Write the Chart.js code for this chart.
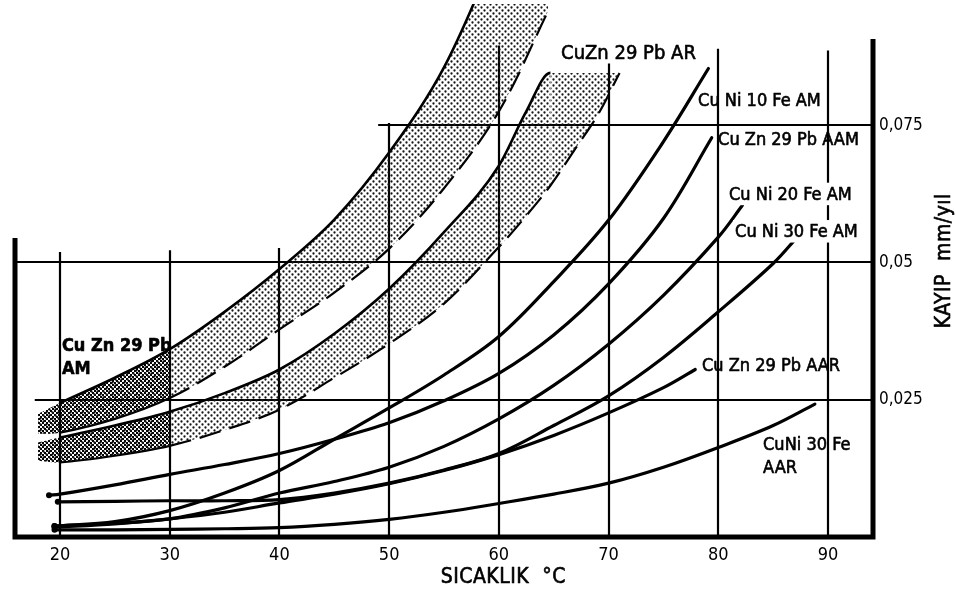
<!DOCTYPE html>
<html>
<head>
<meta charset="utf-8">
<title>Sıcaklık – Kayıp</title>
<script src="https://cdn.jsdelivr.net/npm/chart.js@4.4.0/dist/chart.umd.min.js"></script>
<style>
  html, body { margin: 0; padding: 0; background: #fff; }
  #wrap { width: 956px; height: 592px; }
</style>
</head>
<body>
<div id="wrap"><canvas id="c" width="956" height="592"></canvas></div>
<script>
// ---- axes ----
const tempTicks = [20, 30, 40, 50, 60, 70, 80, 90];
const lossTicks = [0.025, 0.05, 0.075];
const lossTickLabels = ['0,025', '0,05', '0,075'];

// ---- grid: vertical lines (temperature) run from 0 up to a given loss ----
const gridTemps = [20, 30, 40, 50, 60, 70, 80, 90];
const gridTempTops = [0.0519, 0.0522, 0.0526, 0.0754, 0.0895, 0.0862, 0.0889, 0.0886];
// horizontal lines (loss) start at a given temperature
const gridLosses = [0.025, 0.05, 0.075];
const gridLossStarts = [17.7, 15.9, 49.0];

// ---- CuZn 29 Pb AM band ----
const bandAmT     = [18, 20, 25, 30, 35, 40, 45, 50, 55, 60, 64.5];
const bandAmUpper = [0.0224, 0.0244, 0.0290, 0.0342, 0.0410, 0.0488, 0.0578, 0.0700, 0.0855, 0.1080, 0.1300];
const bandAmLower = [0.0188, 0.0190, 0.0215, 0.0253, 0.0310, 0.0378, 0.0445, 0.0525, 0.0635, 0.0775, 0.0958];

// ---- CuZn 29 Pb AR band ----
const bandArT     = [18, 20, 25, 30, 35, 40, 45, 50, 55, 60, 62.5, 64.7, 67, 69, 71];
const bandArUpper = [0.0172, 0.0181, 0.0203, 0.0228, 0.0262, 0.0305, 0.0370, 0.0452, 0.0555, 0.0676, 0.0775, 0.0845, 0.0845, 0.0845, 0.0845];
const bandArLower = [0.0139, 0.0136, 0.0148, 0.0166, 0.0195, 0.0232, 0.0290, 0.0352, 0.0425, 0.0528, 0.0585, 0.0640, 0.0708, 0.0768, 0.0845];

// ---- single curves ----
const cuNi10FeAmT    = [19.5, 25, 30, 35, 40, 45, 50, 55, 60, 65, 70, 75, 79.1];
const cuNi10FeAmLoss = [0.0020, 0.0028, 0.0048, 0.0080, 0.0121, 0.0178, 0.0235, 0.0295, 0.0365, 0.0465, 0.0577, 0.0720, 0.0853];

const cuZn29PbAamT    = [19, 20, 25, 30, 35, 40, 45, 50, 55, 60, 65, 70, 75, 79.4];
const cuZn29PbAamLoss = [0.0076, 0.0078, 0.0095, 0.0114, 0.0132, 0.0152, 0.0178, 0.0208, 0.0248, 0.0298, 0.0368, 0.0461, 0.0580, 0.0727];

const cuNi20FeAmT    = [19.5, 25, 30, 35, 40, 45, 50, 55, 60, 65, 70, 75, 80, 82.2];
const cuNi20FeAmLoss = [0.0020, 0.0025, 0.0033, 0.0053, 0.0080, 0.0101, 0.0127, 0.0165, 0.0215, 0.0276, 0.0351, 0.0440, 0.0546, 0.0604];

const cuNi30FeAmT    = [19.8, 25, 30, 35, 40, 45, 50, 55, 60, 65, 70, 75, 80, 85, 87.2];
const cuNi30FeAmLoss = [0.0064, 0.0065, 0.0066, 0.0066, 0.0068, 0.0080, 0.0098, 0.0122, 0.0152, 0.0203, 0.0257, 0.0327, 0.0410, 0.0498, 0.0546];

const cuZn29PbAarT    = [19.5, 25, 30, 35, 40, 45, 50, 55, 60, 65, 70, 75, 77.9];
const cuZn29PbAarLoss = [0.0018, 0.0024, 0.0033, 0.0045, 0.0062, 0.0078, 0.0097, 0.0121, 0.0150, 0.0185, 0.0226, 0.0272, 0.0305];

const cuNi30FeAarT    = [19.5, 25, 30, 35, 40, 45, 50, 55, 60, 65, 70, 75, 80, 85, 88.8];
const cuNi30FeAarLoss = [0.0013, 0.0013, 0.0014, 0.0015, 0.0017, 0.0023, 0.0032, 0.0045, 0.0061, 0.0078, 0.0098, 0.0127, 0.0163, 0.0203, 0.0242];

// ---- curve names, anchored at (temperature, loss) of the first baseline ----
const curveNotes = [
  { lines: ['CuZn 29 Pb AR'],   t: 65.67, v: 0.0871, size: 20 },
  { lines: ['Cu Ni 10 Fe AM'],  t: 78.16, v: 0.0784 },
  { lines: ['Cu Zn 29 Pb AAM'], t: 79.98, v: 0.0714 },
  { lines: ['Cu Ni 20 Fe AM'],  t: 80.98, v: 0.0614, mask: true },
  { lines: ['Cu Ni 30 Fe AM'],  t: 81.53, v: 0.0546, mask: true },
  { lines: ['Cu Zn 29 Pb AAR'], t: 78.52, v: 0.0302 },
  { lines: ['CuNi 30 Fe', 'AAR'], t: 84.08, v: 0.0159 },
  { lines: ['Cu Zn 29 Pb', 'AM'], t: 20.18, v: 0.0338, bold: true }
];

const FONT = "'DejaVu Sans Condensed', 'DejaVu Sans', sans-serif";
const INK = '#000';
const CLEAR = 'rgba(0,0,0,0)';

const canvas = document.getElementById('c');
const ctx0 = canvas.getContext('2d');

// stipple fills for the two bands
function stipple() {
  const tile = document.createElement('canvas');
  tile.width = 6; tile.height = 6;
  const g = tile.getContext('2d');
  g.fillStyle = '#151515';
  [[1.5, 1.5], [4.5, 4.5]].forEach(([cx, cy]) => {
    g.beginPath(); g.arc(cx, cy, 1.15, 0, Math.PI * 2); g.fill();
  });
  return ctx0.createPattern(tile, 'repeat');
}
function coarseStipple() {
  const tile = document.createElement('canvas');
  tile.width = 4; tile.height = 4;
  const g = tile.getContext('2d');
  g.fillStyle = '#000';
  g.fillRect(0, 0, 2, 2);
  g.fillRect(2, 2, 2, 2);
  return ctx0.createPattern(tile, 'repeat');
}
const lightDots = stipple();
const darkDots = coarseStipple();

function series(xs, ys) { return xs.map((t, i) => ({ x: t, y: ys[i] })); }
function upTo(xs, ys, limit) {
  const out = [];
  xs.forEach((t, i) => { if (t <= limit) out.push({ x: t, y: ys[i] }); });
  return out;
}

function curve(label, xs, ys) {
  return {
    label,
    data: series(xs, ys),
    borderColor: INK,
    borderWidth: 3.2,
    borderCapStyle: 'round',
    fill: false,
    pointRadius: c => (c.dataIndex === 0 ? 3 : 0),
    pointBackgroundColor: INK,
    pointBorderWidth: 0,
    order: 0
  };
}

const datasets = [
  // AM band
  {
    label: 'CuZn 29 Pb AM',
    data: series(bandAmT, bandAmUpper),
    borderColor: INK, borderWidth: 2.6, fill: '+1', backgroundColor: lightDots,
    pointRadius: 0, order: 5,
    segment: { borderColor: c => (c.p0.parsed.x < 20 ? CLEAR : undefined) }
  },
  {
    label: 'CuZn 29 Pb AM alt',
    data: series(bandAmT, bandAmLower),
    borderColor: INK, borderWidth: 2.2, fill: false, pointRadius: 0, order: 5,
    segment: {
      borderColor: c => (c.p0.parsed.x < 20 ? CLEAR : undefined),
      borderDash: c => (c.p0.parsed.x >= 30 ? [22, 9] : undefined)
    }
  },
  // AR band
  {
    label: 'CuZn 29 Pb AR',
    data: series(bandArT, bandArUpper),
    borderColor: INK, borderWidth: 2.6, fill: '+1', backgroundColor: lightDots,
    pointRadius: 0, order: 5, cubicInterpolationMode: 'monotone',
    segment: { borderColor: c => (c.p0.parsed.x < 20 || c.p0.parsed.x >= 64.7 ? CLEAR : undefined) }
  },
  {
    label: 'CuZn 29 Pb AR alt',
    data: series(bandArT, bandArLower),
    borderColor: INK, borderWidth: 2.2, fill: false, pointRadius: 0, order: 5,
    segment: {
      borderColor: c => (c.p0.parsed.x < 20 ? CLEAR : undefined),
      borderDash: c => (c.p0.parsed.x >= 30 ? [22, 9] : undefined)
    }
  },
  // darker stipple on the cool end of both bands
  { label: 'AM 20-30', data: upTo(bandAmT, bandAmUpper, 30), borderWidth: 0, fill: '+1', backgroundColor: darkDots, pointRadius: 0, order: 8 },
  { label: 'AM 20-30 alt', data: upTo(bandAmT, bandAmLower, 30), borderWidth: 0, fill: false, pointRadius: 0, order: 8 },
  { label: 'AR 20-30', data: upTo(bandArT, bandArUpper, 30), borderWidth: 0, fill: '+1', backgroundColor: darkDots, pointRadius: 0, order: 8 },
  { label: 'AR 20-30 alt', data: upTo(bandArT, bandArLower, 30), borderWidth: 0, fill: false, pointRadius: 0, order: 8 },
  // single curves
  curve('Cu Ni 10 Fe AM', cuNi10FeAmT, cuNi10FeAmLoss),
  curve('Cu Zn 29 Pb AAM', cuZn29PbAamT, cuZn29PbAamLoss),
  curve('Cu Ni 20 Fe AM', cuNi20FeAmT, cuNi20FeAmLoss),
  curve('Cu Ni 30 Fe AM', cuNi30FeAmT, cuNi30FeAmLoss),
  curve('Cu Zn 29 Pb AAR', cuZn29PbAarT, cuZn29PbAarLoss),
  curve('CuNi 30 Fe AAR', cuNi30FeAarT, cuNi30FeAarLoss)
];

// grid, frame, curve names and axis titles
const sheetPlugin = {
  id: 'sheet',
  beforeDatasetsDraw(chart) {
    const { ctx } = chart;
    const x = chart.scales.x, y = chart.scales.y;
    ctx.save();
    ctx.strokeStyle = INK;
    ctx.lineWidth = 2.2;
    ctx.lineCap = 'butt';
    gridTemps.forEach((t, i) => {
      const px = Math.round(x.getPixelForValue(t));
      ctx.beginPath();
      ctx.moveTo(px, y.getPixelForValue(0));
      ctx.lineTo(px, y.getPixelForValue(gridTempTops[i]));
      ctx.stroke();
    });
    gridLosses.forEach((v, i) => {
      const py = Math.round(y.getPixelForValue(v));
      ctx.beginPath();
      ctx.moveTo(x.getPixelForValue(gridLossStarts[i]), py);
      ctx.lineTo(x.getPixelForValue(x.max), py);
      ctx.stroke();
    });
    ctx.restore();
  },
  afterDatasetsDraw(chart) {
    const { ctx } = chart;
    const x = chart.scales.x, y = chart.scales.y;
    ctx.save();

    // frame: short left post, bottom axis, tall right post
    ctx.strokeStyle = INK;
    ctx.lineWidth = 5;
    ctx.lineCap = 'square';
    const x0 = x.getPixelForValue(x.min), x1 = x.getPixelForValue(x.max);
    const yb = y.getPixelForValue(0);
    ctx.beginPath();
    ctx.moveTo(x0, y.getPixelForValue(0.054));
    ctx.lineTo(x0, yb);
    ctx.lineTo(x1, yb);
    ctx.lineTo(x1, y.getPixelForValue(0.0902));
    ctx.stroke();

    // curve names, given a slightly heavier stroke
    ctx.fillStyle = INK;
    ctx.strokeStyle = INK;
    ctx.lineWidth = 0.6;
    ctx.lineJoin = 'round';
    ctx.textAlign = 'left';
    ctx.textBaseline = 'alphabetic';
    curveNotes.forEach(n => {
      const size = n.size || 18;
      ctx.font = (n.bold ? 'bold ' : '') + size + 'px ' + FONT;
      const px = x.getPixelForValue(n.t);
      let py = y.getPixelForValue(n.v);
      n.lines.forEach(line => {
        if (n.mask) {
          const w = ctx.measureText(line).width;
          ctx.fillStyle = '#fff';
          ctx.fillRect(px - 2, py - size * 0.95, w + 4, size * 1.25);
          ctx.fillStyle = INK;
        }
        ctx.fillText(line, px, py);
        ctx.strokeText(line, px, py);
        py += size + 5;
      });
    });

    // axis titles
    ctx.font = '21px ' + FONT;
    ctx.letterSpacing = '0.5px';
    ctx.textAlign = 'center';
    ctx.fillText('SICAKLIK  °C', x.getPixelForValue(60.4), yb + 46);
    ctx.strokeText('SICAKLIK  °C', x.getPixelForValue(60.4), yb + 46);

    ctx.translate(x1 + 77, y.getPixelForValue(0.0503));
    ctx.rotate(-Math.PI / 2);
    ctx.fillText('KAYIP  mm/yıl', 0, 0);
    ctx.strokeText('KAYIP  mm/yıl', 0, 0);
    ctx.restore();
  }
};

new Chart(canvas, {
  type: 'line',
  data: { datasets },
  plugins: [sheetPlugin],
  options: {
    responsive: false,
    animation: false,
    devicePixelRatio: 1,
    layout: { padding: { left: 15, top: 0, right: 0, bottom: 0 } },
    plugins: { legend: { display: false }, tooltip: { enabled: false } },
    elements: { line: { tension: 0.35 } },
    scales: {
      x: {
        type: 'linear',
        position: 'bottom',
        min: 15.9,
        max: 94.1,
        grid: { display: false, drawTicks: false },
        border: { display: false },
        ticks: { color: INK, font: { family: FONT, size: 18 }, padding: 8, maxRotation: 0, autoSkip: false },
        afterBuildTicks: s => { s.ticks = tempTicks.map(v => ({ value: v })); },
        afterFit: s => { s.height = 55; s.paddingLeft = 0; s.paddingRight = 0; }
      },
      y: {
        type: 'linear',
        position: 'right',
        min: 0,
        max: 0.09705,
        grid: { display: false, drawTicks: false },
        border: { display: false },
        ticks: {
          color: INK,
          font: { family: FONT, size: 17 },
          padding: 6,
          callback: v => { const i = lossTicks.indexOf(v); return i >= 0 ? lossTickLabels[i] : ''; }
        },
        afterBuildTicks: s => { s.ticks = lossTicks.map(v => ({ value: v })); },
        afterFit: s => { s.width = 83; s.paddingTop = 0; s.paddingBottom = 0; }
      }
    }
  }
});
</script>
</body>
</html>
